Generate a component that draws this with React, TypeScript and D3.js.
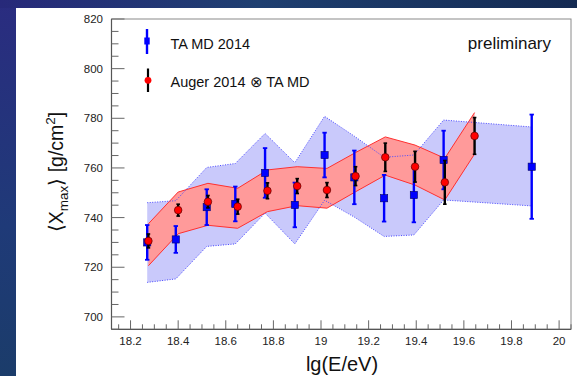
import React from "react";
import * as d3 from "d3";

// TA MD 2014 mean Xmax per energy bin
const taEnergy = [18.27, 18.39, 18.52, 18.64, 18.765, 18.89, 19.015, 19.14, 19.265, 19.39, 19.515, 19.885];
const taXmax = [730.0, 731.2, 744.2, 745.5, 758.0, 745.1, 765.2, 756.2, 747.8, 749.1, 763.2, 760.5];
const taErr = [7.0, 5.4, 7.2, 7.0, 10.0, 9.0, 9.0, 10.8, 9.4, 11.0, 11.8, 21.0];
// TA MD systematic band
const taBandHigh = [746.0, 746.8, 760.2, 761.8, 773.9, 762.1, 780.8, 772.8, 764.3, 765.2, 779.3, 776.5];
const taBandLow = [713.9, 715.3, 728.4, 729.4, 741.8, 729.4, 747.0, 740.2, 732.4, 733.0, 747.1, 744.7];

// Auger 2014 folded with TA MD acceptance
const augerEnergy = [18.275, 18.4, 18.525, 18.65, 18.775, 18.9, 19.025, 19.145, 19.27, 19.395, 19.52, 19.645];
const augerXmax = [730.6, 743.0, 746.4, 744.4, 750.8, 752.7, 751.1, 756.7, 764.3, 760.5, 754.2, 772.9];
const augerErr = [2.8, 2.4, 2.5, 3.0, 3.2, 3.0, 3.0, 3.8, 5.7, 6.2, 8.8, 7.4];
const augerBandHigh = [737.5, 750.3, 753.8, 751.8, 759.2, 760.5, 759.8, 766.2, 772.5, 769.2, 763.9, 782.3];
const augerBandLow = [720.6, 733.5, 736.9, 735.7, 742.4, 744.8, 743.8, 750.4, 757.1, 753.1, 747.1, 765.6];

const xTicks = [18.2, 18.4, 18.6, 18.8, 19, 19.2, 19.4, 19.6, 19.8, 20];
const yTicks = [700, 720, 740, 760, 780, 800, 820];

const W = 577;
const H = 376;
const FONT = "'Liberation Sans', Arial, Helvetica, sans-serif";

export default function App() {
  const x = d3.scaleLinear().domain([18.12, 20.05]).range([111.5, 571]);
  const y = d3.scaleLinear().domain([695, 820]).range([329.3, 19]);
  const [x0, x1] = x.range();
  const [yb, yt] = y.range();

  const taBand = taEnergy.map((e, i) => ({ e, hi: taBandHigh[i], lo: taBandLow[i] }));
  const augBand = augerEnergy.map((e, i) => ({ e, hi: augerBandHigh[i], lo: augerBandLow[i] }));

  const areaFn = d3
    .area<{ e: number; hi: number; lo: number }>()
    .x((d) => x(d.e))
    .y0((d) => y(d.lo))
    .y1((d) => y(d.hi));
  const hiLine = d3
    .line<{ e: number; hi: number; lo: number }>()
    .x((d) => x(d.e))
    .y((d) => y(d.hi));
  const loLine = d3
    .line<{ e: number; hi: number; lo: number }>()
    .x((d) => x(d.e))
    .y((d) => y(d.lo));

  const xMinor = d3.range(18.15, 20.051, 0.05).filter((v) => !xTicks.some((t) => Math.abs(t - v) < 1e-6));
  const yMinor = d3.range(695, 820.01, 5).filter((v) => v % 20 !== 0);

  return (
    <svg
      width={W}
      height={H}
      style={{ position: "absolute", left: 0, top: 0, display: "block" }}
      fontFamily={FONT}
    >
      <defs>
        <linearGradient id="bgTop" x1="0" y1="0" x2="1" y2="0">
          <stop offset="0" stopColor="#27297a" />
          <stop offset="0.45" stopColor="#1e3f70" />
          <stop offset="1" stopColor="#142a52" />
        </linearGradient>
        <linearGradient id="bgLeft" x1="0" y1="0" x2="0" y2="1">
          <stop offset="0" stopColor="#2a2c80" />
          <stop offset="0.6" stopColor="#1f3a78" />
          <stop offset="1" stopColor="#1b3c6a" />
        </linearGradient>
      </defs>
      <rect x={0} y={0} width={W} height={H} fill="url(#bgLeft)" />
      <rect x={0} y={0} width={W} height={8} fill="url(#bgTop)" />
      <rect x={16} y={8} width={W - 16} height={H - 8} fill="#ffffff" />

      {/* systematic bands */}
      <path d={areaFn(taBand) || ""} fill="#c9c9fb" />
      <path d={areaFn(augBand) || ""} fill="#ff9a9a" />
      <path d={hiLine(augBand) || ""} fill="none" stroke="#ff3030" strokeWidth={1} />
      <path d={loLine(augBand) || ""} fill="none" stroke="#ff3030" strokeWidth={1} />
      <path d={hiLine(taBand) || ""} fill="none" stroke="#4a4aff" strokeWidth={1} strokeDasharray="1,1.5" />
      <path d={loLine(taBand) || ""} fill="none" stroke="#4a4aff" strokeWidth={1} strokeDasharray="1,1.5" />

      {/* frame */}
      <rect x={x0} y={yt} width={x1 - x0} height={yb - yt} fill="none" stroke="#8a8a8a" strokeWidth={1} />
      <line x1={x0} x2={x0} y1={yt} y2={yb} stroke="#555" strokeWidth={1.2} />
      <line x1={x0} x2={x1} y1={yb} y2={yb} stroke="#555" strokeWidth={1.2} />

      {/* y ticks */}
      {yTicks.map((t) => (
        <g key={"yt" + t}>
          <line x1={x0} x2={x0 + 13} y1={y(t)} y2={y(t)} stroke="#666" strokeWidth={1} />
          <text x={103} y={y(t)} dy="0.36em" fontSize={11.5} textAnchor="end" fill="#222">
            {t}
          </text>
        </g>
      ))}
      {yMinor.map((t) => (
        <line key={"ym" + t} x1={x0} x2={x0 + 7} y1={y(t)} y2={y(t)} stroke="#666" strokeWidth={1} />
      ))}

      {/* x ticks */}
      {xTicks.map((t) => (
        <g key={"xt" + t}>
          <line x1={x(t)} x2={x(t)} y1={yb} y2={yb - 9} stroke="#666" strokeWidth={1} />
          <text x={x(t)} y={345} fontSize={11.5} textAnchor="middle" fill="#222">
            {t}
          </text>
        </g>
      ))}
      {xMinor.map((t) => (
        <line key={"xm" + t} x1={x(t)} x2={x(t)} y1={yb} y2={yb - 5} stroke="#666" strokeWidth={1} />
      ))}

      {/* axis titles */}
      <text x={342} y={371} fontSize={20} textAnchor="middle" fill="#111">
        lg(E/eV)
      </text>
      <text
        transform={`translate(63,172) rotate(-90)`}
        fontSize={19.5}
        textAnchor="middle"
        fill="#111"
      >
        ⟨X
        <tspan fontSize={13.5} dy={5}>
          max
        </tspan>
        <tspan dy={-5}>⟩ [g/cm</tspan>
        <tspan fontSize={13.5} dy={-8}>
          2
        </tspan>
        <tspan dy={8}>]</tspan>
      </text>

      {/* TA MD points */}
      {taEnergy.map((e, i) => {
        const cx = x(e);
        const top = y(taXmax[i] + taErr[i]);
        const bot = y(taXmax[i] - taErr[i]);
        return (
          <g key={"ta" + i}>
            <line x1={cx} x2={cx} y1={top} y2={bot} stroke="#0000ff" strokeWidth={2.4} />
            <line x1={cx - 2.2} x2={cx + 2.2} y1={top} y2={top} stroke="#0000ff" strokeWidth={1.8} />
            <line x1={cx - 2.2} x2={cx + 2.2} y1={bot} y2={bot} stroke="#0000ff" strokeWidth={1.8} />
            <rect
              x={cx - 3.6}
              y={y(taXmax[i]) - 3.6}
              width={7.2}
              height={7.2}
              fill="#0000ff"
              stroke="#00006a"
              strokeWidth={0.6}
            />
          </g>
        );
      })}

      {/* Auger points */}
      {augerEnergy.map((e, i) => {
        const cx = x(e);
        const top = y(augerXmax[i] + augerErr[i]);
        const bot = y(augerXmax[i] - augerErr[i]);
        return (
          <g key={"au" + i}>
            <line x1={cx} x2={cx} y1={top} y2={bot} stroke="#000" strokeWidth={2.4} />
            <line x1={cx - 1.8} x2={cx + 1.8} y1={top} y2={top} stroke="#000" strokeWidth={1.6} />
            <line x1={cx - 1.8} x2={cx + 1.8} y1={bot} y2={bot} stroke="#000" strokeWidth={1.6} />
            <circle cx={cx} cy={y(augerXmax[i])} r={3.8} fill="#ff0000" stroke="#5a0000" strokeWidth={0.7} />
          </g>
        );
      })}

      {/* legend */}
      <line x1={147} x2={147} y1={29} y2={54} stroke="#0000ff" strokeWidth={2.4} />
      <rect x={144.3} y={37.5} width={5.4} height={7} fill="#0000ff" />
      <text x={170.5} y={48.5} fontSize={14.5} fill="#111">
        TA MD 2014
      </text>
      <line x1={148} x2={148} y1={68.5} y2={92} stroke="#000" strokeWidth={2.2} />
      <circle cx={148} cy={80.3} r={3.4} fill="#ff0000" />
      <text x={170.5} y={87} fontSize={14.5} fill="#111">
        Auger 2014 ⊗ TA MD
      </text>
      <text x={551} y={49} fontSize={17} textAnchor="end" fill="#111">
        preliminary
      </text>
    </svg>
  );
}
